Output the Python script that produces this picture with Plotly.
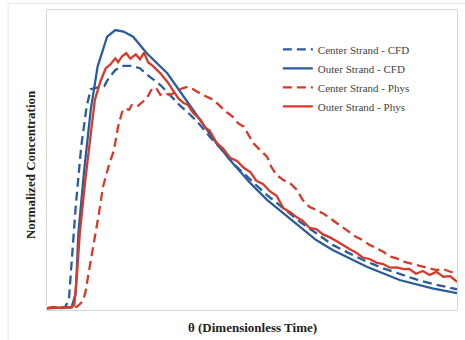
import plotly.graph_objects as go

# theta (dimensionless time) and normalized concentration
outer_cfd_x = [0, 0.18, 0.21, 0.23, 0.27, 0.32, 0.37, 0.44, 0.50, 0.56, 0.63, 0.73, 0.88, 1.00, 1.12, 1.24, 1.36,
               1.49, 1.61, 1.73, 1.85, 1.97, 2.09, 2.34, 2.58, 2.82, 3.00]
outer_cfd_y = [0.006, 0.009, 0.056, 0.256, 0.456, 0.667, 0.811, 0.911, 0.933, 0.928, 0.911, 0.856, 0.789, 0.711,
               0.633, 0.556, 0.489, 0.422, 0.367, 0.322, 0.278, 0.233, 0.200, 0.144, 0.100, 0.072, 0.056]

center_cfd_x = [0, 0.13, 0.16, 0.18, 0.21, 0.25, 0.29, 0.32, 0.39, 0.42, 0.45, 0.50, 0.56, 0.62, 0.68, 0.75, 0.83,
                0.90, 0.97, 1.05, 1.12, 1.19, 1.27, 1.36, 1.49, 1.61, 1.73, 1.85, 1.97, 2.09, 2.22, 2.34, 2.46,
                2.58, 2.70, 2.82, 3.00]
center_cfd_y = [0.006, 0.008, 0.033, 0.156, 0.344, 0.544, 0.678, 0.736, 0.742, 0.747, 0.772, 0.800, 0.814, 0.814,
                0.806, 0.778, 0.750, 0.717, 0.683, 0.650, 0.617, 0.578, 0.539, 0.489, 0.433, 0.383, 0.339, 0.294,
                0.256, 0.217, 0.187, 0.161, 0.139, 0.120, 0.102, 0.087, 0.069]

outer_phys_x = [0, 0.05, 0.10, 0.14, 0.18, 0.20, 0.22, 0.24, 0.28, 0.32, 0.35, 0.39, 0.43, 0.46, 0.50, 0.52, 0.55,
                0.58, 0.61, 0.65, 0.68, 0.71, 0.74, 0.78, 0.83, 0.88, 0.93, 0.96, 1.00, 1.03, 1.07, 1.12, 1.16,
                1.19, 1.24, 1.29, 1.34, 1.39, 1.44, 1.49, 1.53, 1.58, 1.63, 1.68, 1.73, 1.78, 1.83, 1.87, 1.92,
                1.97, 2.02, 2.07, 2.12, 2.17, 2.22, 2.26, 2.31, 2.36, 2.41, 2.46, 2.51, 2.56, 2.61, 2.65, 2.70,
                2.75, 2.80, 2.85, 2.90, 2.95, 3.00]
outer_phys_y = [0.006, 0.010, 0.006, 0.010, 0.009, 0.017, 0.122, 0.256, 0.433, 0.589, 0.700, 0.761, 0.806, 0.817,
                0.839, 0.826, 0.846, 0.856, 0.838, 0.852, 0.836, 0.858, 0.826, 0.811, 0.789, 0.761, 0.728, 0.706,
                0.690, 0.684, 0.657, 0.636, 0.607, 0.598, 0.558, 0.537, 0.507, 0.497, 0.474, 0.459, 0.431, 0.420,
                0.396, 0.381, 0.339, 0.326, 0.308, 0.298, 0.274, 0.270, 0.252, 0.242, 0.229, 0.214, 0.202, 0.192,
                0.175, 0.170, 0.158, 0.153, 0.141, 0.142, 0.136, 0.137, 0.121, 0.130, 0.117, 0.127, 0.111, 0.113,
                0.094]

center_phys_x = [0, 0.22, 0.26, 0.28, 0.30, 0.34, 0.38, 0.41, 0.45, 0.49, 0.52, 0.55, 0.57, 0.60, 0.62, 0.66, 0.69,
                 0.73, 0.77, 0.80, 0.83, 0.86, 0.90, 0.94, 0.99, 1.03, 1.07, 1.12, 1.17, 1.22, 1.27, 1.31, 1.36,
                 1.40, 1.44, 1.47, 1.51, 1.56, 1.61, 1.64, 1.68, 1.73, 1.78, 1.83, 1.87, 1.92, 1.97, 2.02, 2.07,
                 2.12, 2.17, 2.22, 2.26, 2.31, 2.36, 2.41, 2.46, 2.51, 2.56, 2.61, 2.65, 2.70, 2.75, 2.80, 2.85,
                 2.90, 2.95, 3.00]
center_phys_y = [0.006, 0.011, 0.028, 0.056, 0.111, 0.211, 0.322, 0.411, 0.478, 0.533, 0.611, 0.661, 0.672, 0.667,
                 0.683, 0.678, 0.689, 0.706, 0.739, 0.739, 0.717, 0.722, 0.717, 0.728, 0.739, 0.744, 0.736, 0.722,
                 0.711, 0.700, 0.678, 0.661, 0.644, 0.622, 0.611, 0.589, 0.556, 0.533, 0.511, 0.478, 0.450, 0.433,
                 0.422, 0.400, 0.367, 0.344, 0.333, 0.322, 0.306, 0.289, 0.272, 0.256, 0.244, 0.233, 0.217, 0.206,
                 0.194, 0.178, 0.172, 0.161, 0.156, 0.150, 0.144, 0.139, 0.133, 0.136, 0.128, 0.120]

BLUE = "#2b5c9c"
RED = "#d83a2a"
FONT = "Liberation Serif"

fig = go.Figure()
fig.add_trace(go.Scatter(x=center_cfd_x, y=center_cfd_y, mode="lines", name="Center Strand - CFD",
                         line=dict(color=BLUE, width=2.3, dash="9px,5px")))
fig.add_trace(go.Scatter(x=outer_cfd_x, y=outer_cfd_y, mode="lines", name="Outer Strand - CFD",
                         line=dict(color=BLUE, width=2.3)))
fig.add_trace(go.Scatter(x=center_phys_x, y=center_phys_y, mode="lines", name="Center Strand - Phys",
                         line=dict(color=RED, width=2.3, dash="9px,5px")))
fig.add_trace(go.Scatter(x=outer_phys_x, y=outer_phys_y, mode="lines", name="Outer Strand - Phys",
                         line=dict(color=RED, width=2.3)))

axis_common = dict(showgrid=False, zeroline=False, showticklabels=False, ticks="",
                   showline=True, linecolor="#d6d6d6", linewidth=1, mirror=True)

fig.update_layout(
    width=465, height=340,
    margin=dict(l=47, r=8, t=10, b=30),
    paper_bgcolor="white", plot_bgcolor="white",
    font=dict(family=FONT, color="#333333"),
    xaxis=dict(range=[0, 3], **axis_common),
    yaxis=dict(range=[0, 1], **axis_common),
    showlegend=True,
    legend=dict(x=0.563, y=0.917, xanchor="left", yanchor="top", bgcolor="rgba(0,0,0,0)",
                font=dict(family=FONT, size=11, color="#444444"), tracegroupgap=0),
    annotations=[
        dict(text="<b>θ (Dimensionless Time)</b>", xref="paper", yref="paper", x=0.502, y=0,
             xanchor="center", yanchor="middle", yshift=-17, showarrow=False,
             font=dict(family=FONT, size=13, color="#222222")),
        dict(text="<b>Normalized Concentration</b>", xref="paper", yref="paper", x=0, y=0.483,
             xanchor="center", yanchor="middle", xshift=-17, textangle=-90, showarrow=False,
             font=dict(family=FONT, size=13, color="#222222")),
    ],
    shapes=[
        dict(type="line", xref="paper", yref="paper", x0=-0.095, x1=-0.095, y0=1.022, y1=-0.2,
             line=dict(color="#e6e6e6", width=1)),
        dict(type="line", xref="paper", yref="paper", x0=-0.095, x1=1.03, y0=1.022, y1=1.022,
             line=dict(color="#e6e6e6", width=1)),
    ],
)

fig.write_html("out.html")
